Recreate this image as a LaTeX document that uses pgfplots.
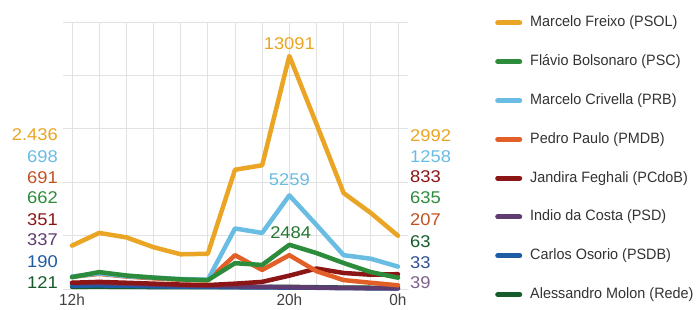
\documentclass[border=0pt]{standalone}
\usepackage{pgfplots}
\pgfplotsset{compat=1.18}
\usepackage{fontspec}
\setmainfont{Liberation Sans}
\newfontfamily\cond{Liberation Sans}[FakeStretch=0.96]
\newfontfamily\wide{Liberation Sans}[FakeStretch=1.08]
\definecolor{cFreixo}{RGB}{233,165,35}
\definecolor{cFlavio}{RGB}{45,140,60}
\definecolor{cCrivella}{RGB}{105,188,226}
\definecolor{cPedro}{RGB}{226,96,40}
\definecolor{cJandira}{RGB}{140,22,22}
\definecolor{cIndio}{RGB}{95,60,112}
\definecolor{cOsorio}{RGB}{30,92,165}
\definecolor{cMolon}{RGB}{22,92,42}
\definecolor{gridc}{RGB}{226,226,226}
\begin{document}
\begin{tikzpicture}
\begin{axis}[
  at={(62.5pt,20pt)}, anchor=south west,
  scale only axis, width=345pt, height=267pt,
  xmin=-0.35, xmax=12.35, ymin=0, ymax=15000,
  scaled y ticks=false,
  clip=false,
  axis line style={draw=none},
  tick style={draw=none},
  xtick={0,1,...,12},
  xticklabels={\mbox{12h},,,,,,,,\mbox{20h},,,,\mbox{0h}},
  xticklabel style={font=\cond\fontsize{16}{16}\selectfont, text=black!75, anchor=north, inner sep=0pt, yshift=-5pt},
  ytick={0,3000,...,15000},
  yticklabels={},
  xmajorgrids, ymajorgrids,
  grid style={gridc, line width=0.7pt},
  every axis plot/.append style={line width=4.5pt, line join=round, line cap=round},
  reverse legend,
  legend cell align=left,
  legend image code/.code={\draw[#1, line width=5pt, line cap=round] (0pt,0pt) -- (22pt,0pt);},
  legend style={at={(axis description cs:1.245,1.031)}, anchor=north west, draw=none, fill=none,
    font=\cond\fontsize{15}{15}\selectfont, text=black!80,
    nodes={inner sep=0pt, text height=11pt, text depth=3pt},
    row sep=24.8pt,
    /tikz/every odd column/.append style={column sep=8pt}},
]
% Molon
\addplot[cMolon] coordinates {(0,121)(1,130)(2,120)(3,110)(4,100)(5,100)(6,100)(7,110)(8,120)(9,100)(10,80)(11,70)(12,63)};
\addlegendentry{Alessandro Molon (Rede)}
% Osorio
\addplot[cOsorio] coordinates {(0,190)(1,200)(2,180)(3,150)(4,130)(5,120)(6,100)(7,90)(8,80)(9,70)(10,50)(11,40)(12,33)};
\addlegendentry{Carlos Osorio (PSDB)}
% Indio
\addplot[cIndio] coordinates {(0,337)(1,330)(2,300)(3,250)(4,200)(5,180)(6,150)(7,120)(8,100)(9,80)(10,60)(11,50)(12,39)};
\addlegendentry{Indio da Costa (PSD)}
% Jandira
\addplot[cJandira] coordinates {(0,351)(1,400)(2,350)(3,300)(4,250)(5,220)(6,300)(7,400)(8,750)(9,1150)(10,900)(11,800)(12,833)};
\addlegendentry{Jandira Feghali (PCdoB)}
% Pedro Paulo
\addplot[cPedro] coordinates {(0,691)(1,850)(2,700)(3,600)(4,520)(5,480)(6,1900)(7,1070)(8,1900)(9,1000)(10,500)(11,350)(12,207)};
\addlegendentry{Pedro Paulo (PMDB)}
% Crivella
\addplot[cCrivella] coordinates {(0,698)(1,880)(2,720)(3,640)(4,560)(5,520)(6,3400)(7,3150)(8,5259)(9,3600)(10,1900)(11,1700)(12,1258)};
\addlegendentry{Marcelo Crivella (PRB)}
% Flavio
\addplot[cFlavio] coordinates {(0,662)(1,950)(2,760)(3,640)(4,540)(5,500)(6,1450)(7,1350)(8,2484)(9,2020)(10,1460)(11,950)(12,635)};
\addlegendentry{Flávio Bolsonaro (PSC)}
% Freixo
\addplot[cFreixo] coordinates {(0,2436)(1,3150)(2,2900)(3,2350)(4,1950)(5,1980)(6,6700)(7,6950)(8,13091)(9,9270)(10,5390)(11,4270)(12,2992)};
\addlegendentry{Marcelo Freixo (PSOL)}
\node[text=cFreixo, font=\wide\fontsize{17}{17}\selectfont, inner sep=0pt] at (axis cs:8,13800) {13091};
\node[text=cCrivella, font=\wide\fontsize{17}{17}\selectfont, inner sep=0pt] at (axis cs:8,6150) {5259};
\node[text=cFlavio!85!black, font=\wide\fontsize{17}{17}\selectfont, inner sep=0pt] at (axis cs:8.05,3150) {2484};
\end{axis}
\begin{scope}[every node/.style={font=\wide\fontsize{17}{17}\selectfont, inner sep=0pt}]
\node[anchor=east, text=cFreixo] at (58pt,174pt) {2.436};
\node[anchor=east, text=cCrivella] at (58pt,152pt) {698};
\node[anchor=east, text=cPedro!85!black] at (58pt,131pt) {691};
\node[anchor=east, text=cFlavio] at (58pt,111pt) {662};
\node[anchor=east, text=cJandira] at (58pt,89pt) {351};
\node[anchor=east, text=cIndio] at (58pt,69pt) {337};
\node[anchor=east, text=cOsorio] at (58pt,47pt) {190};
\node[anchor=east, text=cMolon] at (58pt,26pt) {121};
\node[anchor=west, text=cFreixo] at (410pt,173pt) {2992};
\node[anchor=west, text=cCrivella] at (410pt,152pt) {1258};
\node[anchor=west, text=cJandira] at (410pt,132pt) {833};
\node[anchor=west, text=cFlavio] at (410pt,111pt) {635};
\node[anchor=west, text=cPedro!85!black] at (410pt,89pt) {207};
\node[anchor=west, text=cMolon] at (410pt,67pt) {63};
\node[anchor=west, text=cOsorio!70!cIndio] at (410pt,46pt) {33};
\node[anchor=west, text=cIndio!80] at (410pt,26pt) {39};
\end{scope}
\pgfresetboundingbox
\useasboundingbox (0,0) rectangle (697pt,309pt);
\end{tikzpicture}
\end{document}
